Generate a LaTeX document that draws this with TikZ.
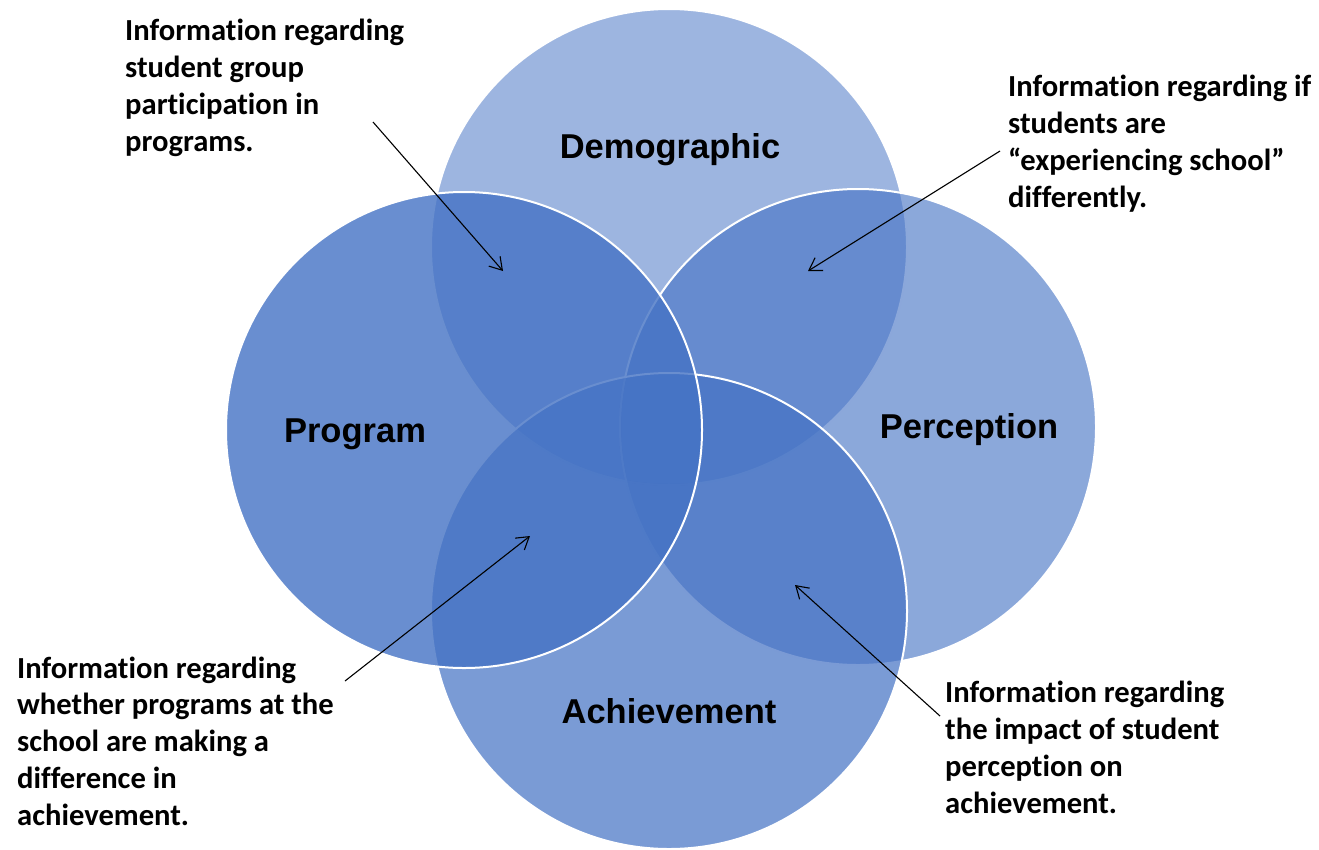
\documentclass[tikz,border=0pt]{standalone}
\usepackage{fontspec}
\setmainfont[Ligatures=NoCommon]{Carlito}
\newfontfamily\arialfont{Liberation Sans}
\usetikzlibrary{arrows.meta}
\definecolor{basecol}{HTML}{4472C4}
\tikzset{
  venn/.style={circle, inner sep=0pt, outer sep=0pt, minimum size=476pt,
    fill=basecol, draw=white, line width=2pt},
  biglabel/.style={font=\arialfont\bfseries\fontsize{34.5}{40}\selectfont, anchor=base, inner sep=0pt},
  note/.style={font=\bfseries\fontsize{30.6}{36.7}\selectfont, align=left, anchor=base west, inner sep=0pt},
  arr/.style={line width=1.1pt, -{Straight Barb[length=12pt,width=15pt]}}
}
\begin{document}
\begin{tikzpicture}[x=1pt,y=-1pt]
\useasboundingbox (0,0) rectangle (1319,849);
% circles
\node[venn, fill opacity=0.52] (demo) at (669,247) {};
\node[venn, fill opacity=0.62] (perc) at (858,427) {};
\node[venn, fill opacity=0.71] (achi) at (669,611) {};
\node[venn, fill opacity=0.80] (prog) at (464,430) {};
% circle labels
\node[biglabel] (ldemo) at (670,158) {Demographic};
\node[biglabel] (lprog) at (355,442) {Program};
\node[biglabel] (lperc) at (969,438) {Perception};
\node[biglabel] (lachi) at (669,723) {Achievement};
% notes (anchored at the baseline of the last line)
\node[note] (n1) at (125,151) {Information regarding\\student group\\participation in\\programs.};
\node[note] (n2) at (1008,207) {Information regarding if\\students are\\“experiencing school”\\differently.};
\node[note] (n3) at (17,825) {Information regarding\\whether programs at the\\school are making a\\difference in\\achievement.};
\node[note] (n4) at (945,813) {Information regarding\\the impact of student\\perception on\\achievement.};
% connector ends
\coordinate (s1) at (373,122);
\coordinate (e1) at (503,271);
\coordinate (s2) at (1000,151);
\coordinate (e2) at (808,271);
\coordinate (s3) at (345,681);
\coordinate (e3) at (530,536);
\coordinate (s4) at (940,716);
\coordinate (e4) at (795,585);
\draw[arr] (s1) -- (e1);
\draw[arr] (s2) -- (e2);
\draw[arr] (s3) -- (e3);
\draw[arr] (s4) -- (e4);
\end{tikzpicture}
\end{document}
